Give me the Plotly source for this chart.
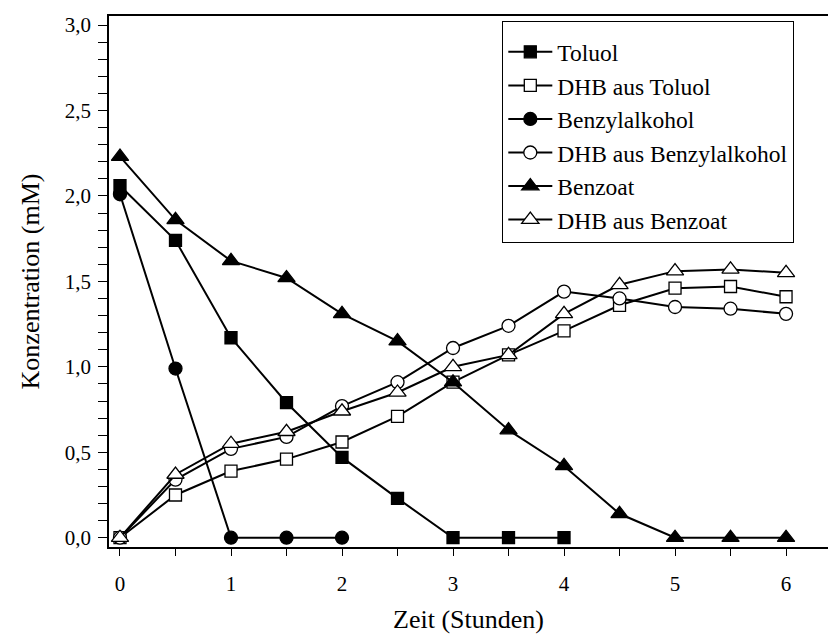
import plotly.graph_objects as go

zeit = [0, 0.5, 1, 1.5, 2, 2.5, 3, 3.5, 4, 4.5, 5, 5.5, 6]

toluol_t = [0, 0.5, 1, 1.5, 2, 2.5, 3, 3.5, 4]
toluol = [2.06, 1.74, 1.17, 0.79, 0.47, 0.23, 0.0, 0.0, 0.0]

benzyl_t = [0, 0.5, 1, 1.5, 2]
benzyl = [2.01, 0.99, 0.0, 0.0, 0.0]

benzoat = [2.23, 1.86, 1.62, 1.52, 1.31, 1.15, 0.91, 0.63, 0.42, 0.14, 0.0, 0.0, 0.0]

dhb_toluol = [0.0, 0.25, 0.39, 0.46, 0.56, 0.71, 0.91, 1.07, 1.21, 1.36, 1.46, 1.47, 1.41]
dhb_benzyl = [0.0, 0.34, 0.52, 0.59, 0.77, 0.91, 1.11, 1.24, 1.44, 1.40, 1.35, 1.34, 1.31]
dhb_benzoat = [0.0, 0.37, 0.55, 0.62, 0.74, 0.85, 1.00, 1.07, 1.31, 1.48, 1.56, 1.57, 1.55]

y_ticks = [round(i * 0.1, 1) for i in range(31)]
y_labels = [(f"{v:.1f}".replace(".", ",") if abs(v * 2 - round(v * 2)) < 1e-9 else "") for v in y_ticks]
x_ticks = [i * 0.5 for i in range(13)]
x_labels = [(str(int(v)) if v == int(v) else "") for v in x_ticks]

FONT = "Times New Roman"
LW = 2

def tr(name, x, y, symbol, filled, size, group):
    return go.Scatter(
        x=x, y=y, name=name, mode="lines+markers", legendgroup=group,
        line=dict(color="black", width=LW),
        marker=dict(symbol=symbol, size=size,
                    color="black" if filled else "white",
                    line=dict(color="black", width=1.3)),
    )

fig = go.Figure()
fig.add_trace(tr("Toluol", toluol_t, toluol, "square", True, 12, "a"))
fig.add_trace(tr("DHB aus Toluol", zeit, dhb_toluol, "square", False, 12, "b"))
fig.add_trace(tr("Benzylalkohol", benzyl_t, benzyl, "circle", True, 13, "c"))
fig.add_trace(tr("DHB aus Benzylalkohol", zeit, dhb_benzyl, "circle", False, 13, "d"))
fig.add_trace(tr("Benzoat", zeit, benzoat, "triangle-up", True, 15, "e"))
fig.add_trace(tr("DHB aus Benzoat", zeit, dhb_benzoat, "triangle-up", False, 15, "f"))

fig.update_layout(
    width=828, height=641,
    margin=dict(l=109, r=0, t=16, b=94),
    paper_bgcolor="white", plot_bgcolor="white",
    font=dict(family=FONT, color="black", size=21),
    showlegend=True,
    legend=dict(
        x=0.5466, y=0.9906, xanchor="left", yanchor="top",
        bordercolor="black", borderwidth=1.3, bgcolor="white",
        font=dict(family=FONT, size=23.5, color="black"),
        traceorder="grouped", tracegroupgap=0,
        itemwidth=44,
        title=dict(text="\u00a0", font=dict(family=FONT, size=6)),
    ),
    xaxis=dict(
        range=[-0.099, 6.378], tickvals=x_ticks, ticktext=x_labels,
        ticks="outside", ticklen=7, tickwidth=1.3, tickcolor="black",
        showline=True, linecolor="black", linewidth=1.5, mirror=True,
        showgrid=False, zeroline=False,
        ticklabelstandoff=10,
        title=dict(text="Zeit (Stunden)", font=dict(family=FONT, size=26), standoff=15),
    ),
    yaxis=dict(
        range=[-0.0544, 3.053], tickvals=y_ticks, ticktext=y_labels,
        ticks="outside", ticklen=9, tickwidth=1.3, tickcolor="black",
        showline=True, linecolor="black", linewidth=1.5, mirror=False,
        showgrid=False, zeroline=False,
        ticklabelstandoff=3,
        title=dict(text="Konzentration (mM)", font=dict(family=FONT, size=26), standoff=18),
    ),
)

fig.write_html("out.html")
